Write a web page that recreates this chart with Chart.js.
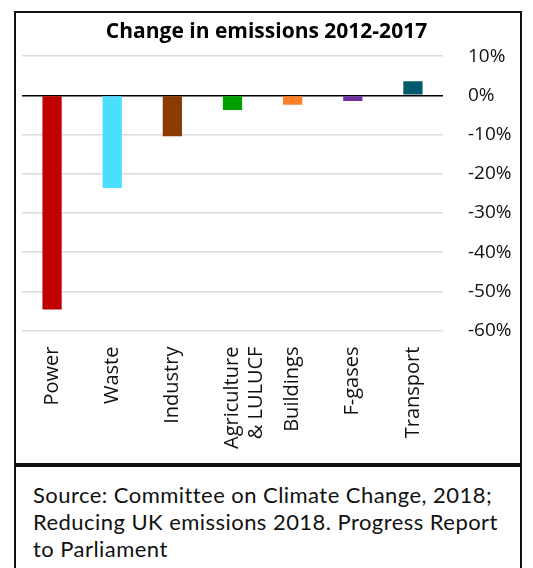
<!DOCTYPE html>
<html lang="en">
<head>
<meta charset="UTF-8">
<title>Change in emissions 2012-2017</title>
<script src="https://cdn.jsdelivr.net/npm/chart.js"></script>
<style>
  body { margin: 0; background: #fff; }
  #chartBox {
    position: absolute; left: 14px; top: 11px;
    width: 504px; height: 450px;
    border: 2px solid #111;
  }
  #sourceBox {
    position: absolute; left: 14px; top: 465px;
    width: 504px; height: 120px;
    border: 2px solid #111;
    font-family: Lato, "Noto Sans", sans-serif;
    font-size: 22px; letter-spacing: 0.45px; line-height: 27px; color: #111;
  }
  #sourceBox p { margin: 14px 0 0 17px; }
</style>
</head>
<body>
<div id="chartBox"><canvas id="emChart" width="504" height="450"></canvas></div>
<div id="sourceBox"><p>Source: Committee on Climate Change, 2018;<br>Reducing UK emissions 2018. Progress Report<br>to Parliament</p></div>
<script>
const sectors = ['Power', 'Waste', 'Industry', ['Agriculture', '& LULUCF'], 'Buildings', 'F-gases', 'Transport'];
const changePct = [-54.6, -23.6, -10.4, -3.7, -2.4, -1.4, 3.6];
const barColors = ['#c00000', '#4bdfff', '#8b3a00', '#00a000', '#ff7f27', '#7030a0', '#005a6e'];
const yTicks = [10, 0, -10, -20, -30, -40, -50, -60];

new Chart(document.getElementById('emChart'), {
  type: 'bar',
  data: {
    labels: sectors,
    datasets: [{
      data: changePct,
      backgroundColor: barColors,
      barPercentage: 0.32,
      categoryPercentage: 1
    }]
  },
  options: {
    responsive: false,
    animation: false,
    layout: { padding: { left: 6, right: 9, top: 6, bottom: 6 } },
    plugins: {
      legend: { display: false },
      tooltip: { enabled: false },
      title: {
        display: true,
        text: 'Change in emissions 2012-2017',
        color: '#000',
        font: { family: 'Open Sans', size: 21, weight: 'bold' },
        padding: { top: 0, bottom: 12 }
      }
    },
    scales: {
      x: {
        grid: { display: false },
        border: { display: false },
        ticks: {
          color: '#111',
          minRotation: 90, maxRotation: 90,
          padding: 8,
          font: { family: 'Open Sans', size: 20 }
        }
      },
      y: {
        position: 'right',
        min: -60, max: 10,
        afterBuildTicks: axis => { axis.ticks = yTicks.map(v => ({ value: v })); },
        afterFit: axis => { axis.width = 68; },
        grid: {
          drawTicks: false,
          color: ctx => ctx.tick && ctx.tick.value === 0 ? '#000' : '#dcdcdc',
          lineWidth: 1.6
        },
        border: { display: false },
        ticks: {
          color: '#111',
          padding: 25,
          font: { family: 'Open Sans', size: 19 },
          callback: v => v + '%'
        }
      }
    }
  }
});
</script>
</body>
</html>
